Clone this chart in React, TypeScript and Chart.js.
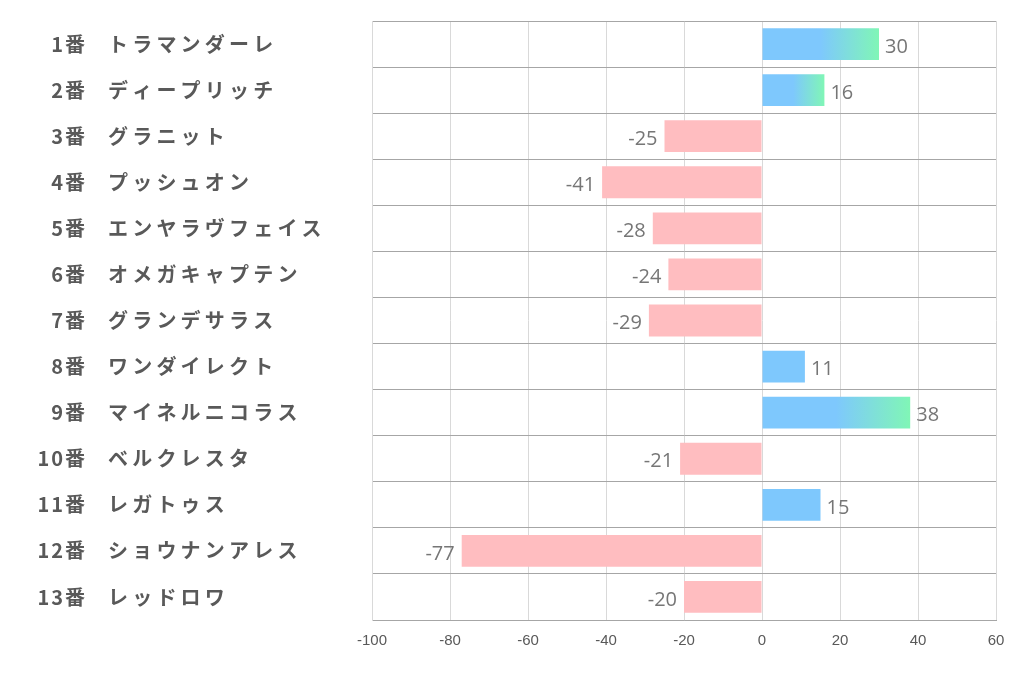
import React, { useEffect, useRef } from "react";
import { Chart, registerables } from "chart.js";

Chart.register(...registerables);

const horseNumbers = ["1番", "2番", "3番", "4番", "5番", "6番", "7番", "8番", "9番", "10番", "11番", "12番", "13番"];
const horseNames = [
  "トラマンダーレ",
  "ディープリッチ",
  "グラニット",
  "プッシュオン",
  "エンヤラヴフェイス",
  "オメガキャプテン",
  "グランデサラス",
  "ワンダイレクト",
  "マイネルニコラス",
  "ベルクレスタ",
  "レガトゥス",
  "ショウナンアレス",
  "レッドロワ",
];
const scores = [30, 16, -25, -41, -28, -24, -29, 11, 38, -21, 15, -77, -20];
const xTicks = [-100, -80, -60, -40, -20, 0, 20, 40, 60];

const BLUE = "#7ec8fd";
const GREEN = "#80f6b6";
const PINK = "#ffbdc0";

export default function App() {
  const canvasRef = useRef<HTMLCanvasElement | null>(null);

  useEffect(() => {
    const canvas = canvasRef.current;
    if (!canvas) return;

    const labelPlugin = {
      id: "customLabels",
      afterDraw(chart: any) {
        const ctx = chart.ctx as CanvasRenderingContext2D;
        const ys = chart.scales.y;
        const xs = chart.scales.x;
        ctx.save();
        ctx.textBaseline = "middle";
        // category labels
        ctx.fillStyle = "#595959";
        ctx.font = 'bold 20px "Noto Sans CJK JP", sans-serif';
        horseNumbers.forEach((num, i) => {
          const y = ys.getPixelForValue(i);
          (ctx as any).letterSpacing = "2px";
          ctx.textAlign = "right";
          ctx.fillText(num, 87, y);
          (ctx as any).letterSpacing = "4.2px";
          ctx.textAlign = "left";
          ctx.fillText(horseNames[i], 108, y);
        });
        (ctx as any).letterSpacing = "0px";
        // data labels
        ctx.fillStyle = "#767676";
        ctx.font = '20px "Open Sans", sans-serif';
        scores.forEach((v, i) => {
          const y = ys.getPixelForValue(i) + 3;
          const x = xs.getPixelForValue(v);
          if (v >= 0) {
            ctx.textAlign = "left";
            ctx.fillText(String(v), x + 6, y);
          } else {
            ctx.textAlign = "right";
            ctx.fillText(String(v), x - 7, y);
          }
        });
        ctx.restore();
      },
    };

    const chart = new Chart(canvas, {
      type: "bar",
      data: {
        labels: horseNames.map((n, i) => horseNumbers[i] + "　" + n),
        datasets: [
          {
            data: scores,
            barPercentage: 0.69,
            categoryPercentage: 1,
            backgroundColor: (c: any) => {
              const v = c.raw as number;
              if (v < 0) return PINK;
              if (v <= 15) return BLUE;
              const xs = c.chart.scales.x;
              if (!xs) return BLUE;
              const x0 = xs.getPixelForValue(0);
              const x1 = xs.getPixelForValue(v);
              if (!isFinite(x0) || !isFinite(x1) || x1 <= x0) return BLUE;
              const g = c.chart.ctx.createLinearGradient(x0, 0, x1, 0);
              g.addColorStop(0, BLUE);
              g.addColorStop(0.5, BLUE);
              g.addColorStop(1, GREEN);
              return g;
            },
          },
        ],
      },
      options: {
        indexAxis: "y",
        responsive: true,
        maintainAspectRatio: false,
        animation: false,
        layout: { padding: { left: 372, top: 21, right: 26, bottom: 0 } },
        plugins: {
          legend: { display: false },
          tooltip: { enabled: false },
          title: { display: false },
        },
        scales: {
          x: {
            type: "linear",
            min: -100,
            max: 60,
            afterBuildTicks: (s: any) => {
              s.ticks = xTicks.map((v) => ({ value: v }));
            },
            afterFit: (s: any) => {
              s.height = 58;
            },
            grid: { color: "#d9d9d9", drawTicks: false, lineWidth: 1 },
            border: { display: true, color: "#a6a6a6" },
            ticks: {
              padding: 12,
              color: "#595959",
              font: { family: '"Liberation Sans Narrow", "Liberation Sans", sans-serif', size: 15 },
            },
          },
          y: {
            type: "category",
            offset: true,
            afterFit: (s: any) => {
              s.width = 0;
            },
            grid: { offset: true, color: "#a6a6a6", drawTicks: false, lineWidth: 1 },
            border: { display: true, color: "#d9d9d9" },
            ticks: { display: false },
          },
        },
      },
      plugins: [labelPlugin],
    });

    return () => chart.destroy();
  }, []);

  return (
    <div style={{ position: "fixed", left: 0, top: 0, width: 1022, height: 678, background: "#fff" }}>
      <canvas ref={canvasRef} />
    </div>
  );
}
